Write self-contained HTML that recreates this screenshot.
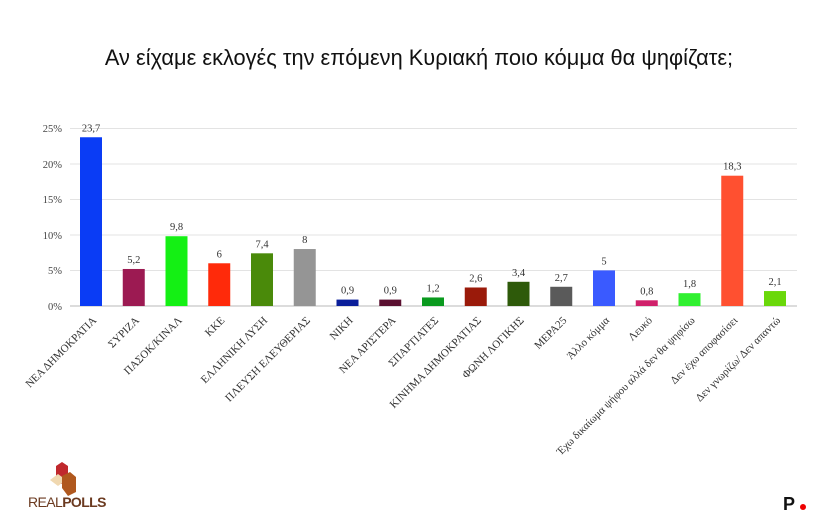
<!DOCTYPE html>
<html><head><meta charset="utf-8"><style>
html,body{margin:0;padding:0;background:#fff;}
svg{display:block}
</style></head><body>
<svg width="830" height="529" viewBox="0 0 830 529" xmlns="http://www.w3.org/2000/svg">
<rect width="830" height="529" fill="#fff"/>
<text x="419" y="65" text-anchor="middle" font-family="Liberation Sans, sans-serif" font-size="21.8" fill="#111">Αν είχαμε εκλογές την επόμενη Κυριακή ποιο κόμμα θα ψηφίζατε;</text>
<g stroke="#e3e3e3" stroke-width="1">
<line x1="70" x2="797" y1="128.5" y2="128.5"/>
<line x1="70" x2="797" y1="164" y2="164"/>
<line x1="70" x2="797" y1="199.5" y2="199.5"/>
<line x1="70" x2="797" y1="235" y2="235"/>
<line x1="70" x2="797" y1="270.5" y2="270.5"/>
<line x1="70" x2="797" y1="306" y2="306" stroke="#d0d0d0" stroke-width="1.5"/>
</g>
<g font-family="Liberation Serif, serif" font-size="10.5" fill="#444" text-anchor="end">
<text x="62" y="132">25%</text><text x="62" y="168">20%</text><text x="62" y="203">15%</text>
<text x="62" y="239">10%</text><text x="62" y="274">5%</text><text x="62" y="310">0%</text>
</g>
<g id="bars" font-family="Liberation Serif, serif" font-size="10.5" fill="#333" text-anchor="middle"></g>
<g id="labels" font-family="Liberation Serif, serif" font-size="11" fill="#333" text-anchor="end"></g>
<!-- logo -->
<polygon points="56,466 62,462 68,466 68,480 62,484 56,480" fill="#c0282d"/>
<polygon points="50,480 58,474 66,480 58,486" fill="#f0d8b0"/>
<polygon points="62,476 70,472 76,477 76,492 68,496 62,488" fill="#b0581e"/>
<text x="28" y="507" font-family="Liberation Sans, sans-serif" font-size="14" fill="#6b3a20" letter-spacing="-0.6">REAL<tspan font-weight="bold">POLLS</tspan></text>
<text x="783" y="510" font-family="Liberation Sans, sans-serif" font-size="18" font-weight="bold" fill="#111">P</text>
<circle cx="803" cy="507" r="3" fill="#e00"/>
</svg>
<script>
const d=[["ΝΕΑ ΔΗΜΟΚΡΑΤΙΑ",23.7,"#0a3cf5","23,7"],["ΣΥΡΙΖΑ",5.2,"#9c1a52","5,2"],["ΠΑΣΟΚ/ΚΙΝΑΛ",9.8,"#14f014","9,8"],["ΚΚΕ",6,"#ff2a0a","6"],["ΕΛΛΗΝΙΚΗ ΛΥΣΗ",7.4,"#4a8a0a","7,4"],["ΠΛΕΥΣΗ ΕΛΕΥΘΕΡΙΑΣ",8,"#959595","8"],["ΝΙΚΗ",0.9,"#0a1e9a","0,9"],["ΝΕΑ ΑΡΙΣΤΕΡΑ",0.9,"#5a1030","0,9"],["ΣΠΑΡΤΙΑΤΕΣ",1.2,"#0a9a1e","1,2"],["ΚΙΝΗΜΑ ΔΗΜΟΚΡΑΤΙΑΣ",2.6,"#9a1a0a","2,6"],["ΦΩΝΗ ΛΟΓΙΚΗΣ",3.4,"#2e5a0a","3,4"],["ΜΕΡΑ25",2.7,"#5a5a5a","2,7"],["Άλλο κόμμα",5,"#3a5aff","5"],["Λευκό",0.8,"#d0206a","0,8"],["Έχω δικαίωμα ψήφου αλλά δεν θα ψηφίσω",1.8,"#30f030","1,8"],["Δεν έχω αποφασίσει",18.3,"#ff5030","18,3"],["Δεν γνωρίζω/ Δεν απαντώ",2.1,"#6ad80a","2,1"]];
const ns="http://www.w3.org/2000/svg",B=document.getElementById("bars"),L=document.getElementById("labels");
d.forEach((r,i)=>{const cx=91+i*42.75,h=r[1]*7.12,y=306-h;
let e=document.createElementNS(ns,"rect");e.setAttribute("x",cx-11);e.setAttribute("y",y);e.setAttribute("width",22);e.setAttribute("height",h);e.setAttribute("fill",r[2]);B.appendChild(e);
let t=document.createElementNS(ns,"text");t.setAttribute("x",cx);t.setAttribute("y",y-6);t.textContent=r[3];B.appendChild(t);
let l=document.createElementNS(ns,"text");l.setAttribute("transform",`translate(${cx+6},321) rotate(-45)`);l.textContent=r[0];L.appendChild(l);});
</script>
</body></html>
